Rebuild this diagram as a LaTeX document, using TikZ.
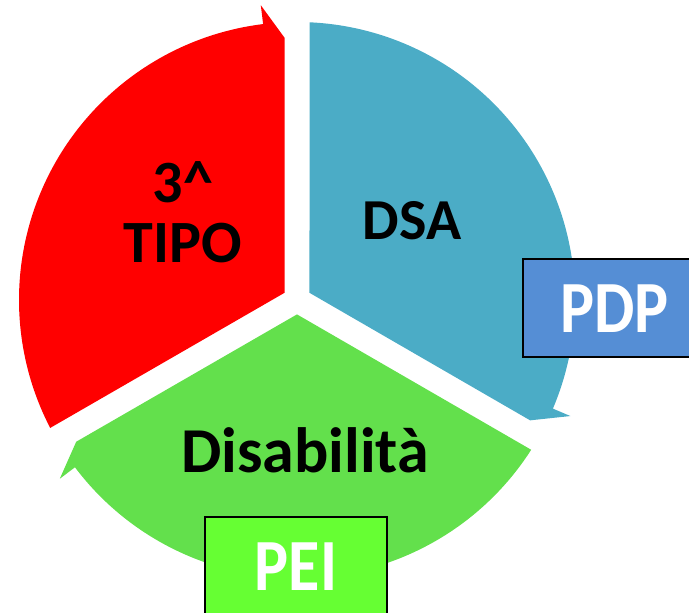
\documentclass[tikz,border=0pt]{standalone}
\usepackage{fontspec}
\setmainfont{Carlito}
\definecolor{dsablue}{RGB}{75,172,198}
\definecolor{tipored}{RGB}{255,0,0}
\definecolor{disgreen}{RGB}{99,224,76}
\definecolor{pdpblue}{RGB}{85,142,213}
\definecolor{peigreen}{RGB}{102,255,51}

\begin{document}
\begin{tikzpicture}[x=1pt,y=1pt,
    seglabel/.style={anchor=base,inner sep=0pt,font=\fontsize{60}{60}\selectfont\bfseries},
    tagbox/.style={draw=black,line width=2pt,minimum width=182pt,minimum height=98pt,
        inner sep=0pt,text=white,font=\fontsize{64}{64}\selectfont\bfseries}]
    \useasboundingbox (-297,-313) rectangle (392,300);

    \foreach \rot/\col in {0/dsablue,120/tipored,240/disgreen}
        \fill[\col,rotate=\rot] (30:14.4) -- (-27.3:262.4) -- (-23:297) -- (-23:278)
            arc[start angle=-23,end angle=87.4,radius=278pt] -- cycle;

    \node[seglabel] (num) at (-114,97) {3\textasciicircum};
    \node[seglabel] (tipo) at (-114,37) {TIPO};
    \node[seglabel,font=\fontsize{58}{60}\selectfont\bfseries] (dsa) at (115,60) {DSA};
    \node[seglabel,font=\fontsize{64}{60}\selectfont\bfseries] (dis) at (8,-173) {Disabilità};

    \node[tagbox,fill=pdpblue] (pdp) at (317.5,-8.5) {\scalebox{1}[1.15]{PDP}};
    \node[tagbox,fill=peigreen] (pei) at (-1,-266.5) {\scalebox{1}[1.15]{PEI}};
\end{tikzpicture}
\end{document}
